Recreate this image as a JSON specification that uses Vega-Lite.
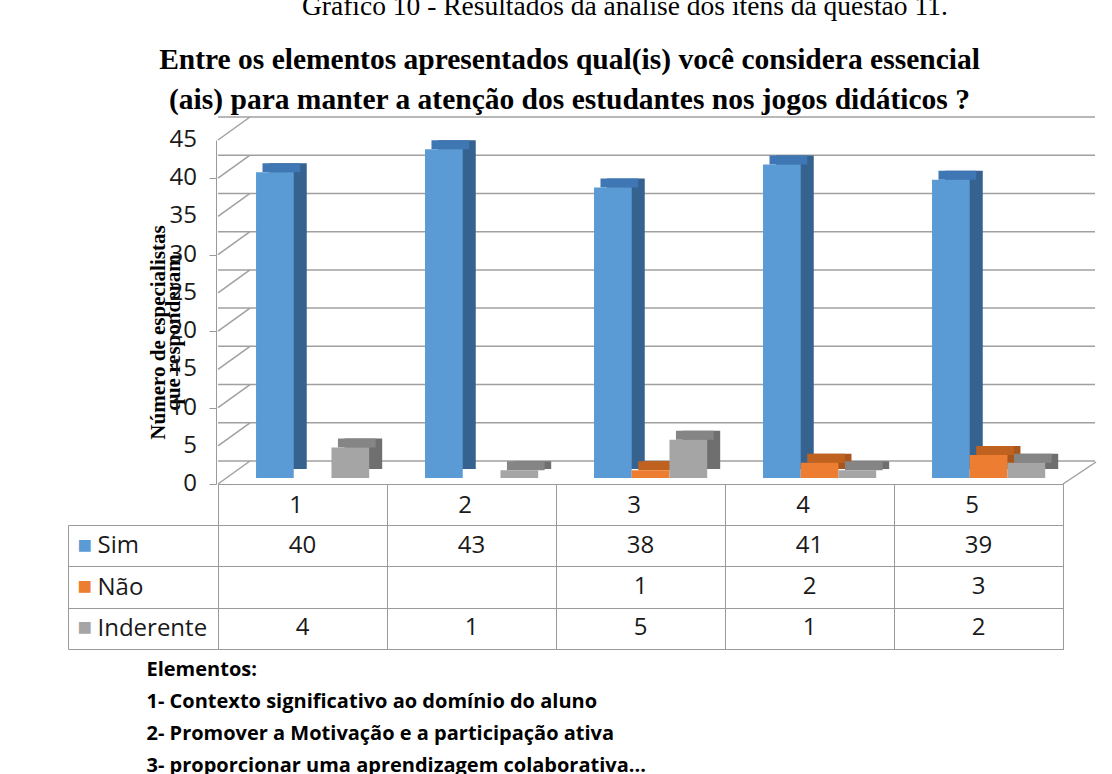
{
  "$schema": "https://vega.github.io/schema/vega-lite/v6.json",
  "padding": {"left": 67, "top": -8, "right": 5, "bottom": 5},
  "background": "white",
  "title": {"text": "Gráfico  10 - Resultados da análise dos itens  da questão 11.", "font": "Liberation Serif", "fontSize": 27.5, "fontWeight": "normal", "color": "#000000", "anchor": "middle", "dx": 43, "offset": 24.5},
  "datasets": {
    "resp": [
      {"cat": "1", "ser": "Sim", "val": 40},
      {"cat": "1", "ser": "Inderente", "val": 4},
      {"cat": "2", "ser": "Sim", "val": 43},
      {"cat": "2", "ser": "Inderente", "val": 1},
      {"cat": "3", "ser": "Sim", "val": 38},
      {"cat": "3", "ser": "Não", "val": 1},
      {"cat": "3", "ser": "Inderente", "val": 5},
      {"cat": "4", "ser": "Sim", "val": 41},
      {"cat": "4", "ser": "Não", "val": 2},
      {"cat": "4", "ser": "Inderente", "val": 1},
      {"cat": "5", "ser": "Sim", "val": 39},
      {"cat": "5", "ser": "Não", "val": 3},
      {"cat": "5", "ser": "Inderente", "val": 2}
    ],
    "ticks": [{"v": 0}, {"v": 5}, {"v": 10}, {"v": 15}, {"v": 20}, {"v": 25}, {"v": 30}, {"v": 35}, {"v": 40}, {"v": 45}]
  },
  "config": {"view": {"stroke": null}},
  "bounds": "flush",
  "spacing": 41,
  "vconcat": [
    {
      "width": 845,
      "height": 344,
      "title": {"text": ["Entre os elementos apresentados qual(is) você considera essencial", "(ais) para manter a atenção dos estudantes nos jogos didáticos ?"], "font": "Liberation Serif", "fontSize": 29.5, "fontWeight": "bold", "color": "#000000", "anchor": "middle", "dx": -71, "offset": 1, "lineHeight": 40},
      "resolve": {"scale": {"xOffset": "independent", "fill": "independent"}},
      "layer": [
        {
          "data": {"name": "ticks"},
          "mark": {"type": "rule", "color": "#a0a0a0", "strokeWidth": 1.5, "xOffset": 32, "x2Offset": 33, "yOffset": -23},
          "encoding": {
            "y": {"field": "v", "type": "quantitative", "scale": {"domain": [0, 45], "nice": false},
              "axis": {"title": ["Número de especialistas", "que responderam"], "values": [0, 5, 10, 15, 20, 25, 30, 35, 40, 45], "labels": false, "grid": false, "domainColor": "#9a9a9a", "tickColor": "#9a9a9a", "tickSize": 7, "offset": 2, "titleFont": "Liberation Serif", "titleFontSize": 21, "titleFontWeight": "bold", "titleColor": "#000000", "titleLineHeight": 15, "titleX": -58, "titleY": 192, "titleAngle": -90, "titleAlign": "center", "titleBaseline": "middle"}}
          }
        },
        {
          "data": {"name": "ticks"},
          "mark": {"type": "rule", "color": "#a0a0a0", "strokeWidth": 1.5, "x2Offset": 32, "y2Offset": -23},
          "encoding": {
            "x": {"datum": "1", "type": "nominal", "bandPosition": 0},
            "x2": {"datum": "1", "bandPosition": 0},
            "y": {"field": "v", "type": "quantitative"},
            "y2": {"field": "v"}
          }
        },
        {
          "data": {"name": "ticks"},
          "transform": [{"filter": "datum.v == 0"}],
          "mark": {"type": "rule", "color": "#a0a0a0", "strokeWidth": 1.5, "x2Offset": 33, "y2Offset": -22},
          "encoding": {
            "x": {"datum": "5", "type": "nominal", "bandPosition": 1},
            "x2": {"datum": "5", "bandPosition": 1},
            "y": {"field": "v", "type": "quantitative"},
            "y2": {"field": "v"}
          }
        },
        {
          "data": {"name": "ticks"},
          "mark": {"type": "text", "align": "right", "baseline": "middle", "dx": -21, "font": "Open Sans", "fontSize": 24, "color": "#1a1a1a"},
          "encoding": {
            "x": {"datum": "1", "type": "nominal", "bandPosition": 0},
            "y": {"field": "v", "type": "quantitative"},
            "text": {"field": "v", "type": "quantitative"}
          }
        },
        {
          "data": {"name": "resp"},
          "mark": {"type": "bar", "yOffset": -15},
          "encoding": {
            "x": {"field": "cat", "type": "nominal", "scale": {"domain": ["1", "2", "3", "4", "5"], "paddingInner": 0, "paddingOuter": 0},
              "axis": {"title": null, "domainColor": "#9a9a9a", "tickColor": "#9a9a9a", "tickSize": 41, "tickBand": "extent", "labelFont": "Open Sans", "labelFontSize": 24, "labelColor": "#1a1a1a", "labelAngle": 0, "labelBaseline": "middle", "labelPadding": -20, "grid": false}},
            "xOffset": {"field": "ser", "scale": {"domain": ["Sim", "Não", "Inderente"], "paddingOuter": 0.74, "paddingInner": 0, "align": 0.914}},
            "y": {"field": "val", "type": "quantitative"},
            "fill": {"field": "ser", "scale": {"domain": ["Sim", "Não", "Inderente"], "range": ["#35628f", "#a9561c", "#6f6f6f"]}, "legend": null}
          }
        },
        {
          "data": {"name": "resp"},
          "mark": {"type": "bar", "yOffset": -15, "y2Offset": -6},
          "encoding": {
            "x": {"field": "cat", "type": "nominal"},
            "xOffset": {"field": "ser", "scale": {"domain": ["Sim", "Não", "Inderente"], "paddingOuter": 0.74, "paddingInner": 0, "align": 0.797}},
            "y": {"field": "val", "type": "quantitative"},
            "y2": {"field": "val"},
            "fill": {"field": "ser", "scale": {"domain": ["Sim", "Não", "Inderente"], "range": ["#3f77b5", "#c0621f", "#858585"]}, "legend": null}
          }
        },
        {
          "data": {"name": "resp"},
          "mark": {"type": "bar", "yOffset": -6},
          "encoding": {
            "x": {"field": "cat", "type": "nominal"},
            "xOffset": {"field": "ser", "scale": {"domain": ["Sim", "Não", "Inderente"], "paddingOuter": 0.74, "paddingInner": 0, "align": 0.681}},
            "y": {"field": "val", "type": "quantitative"},
            "color": {"field": "ser", "scale": {"domain": ["Sim", "Não", "Inderente"], "range": ["#5b9bd5", "#ed7d31", "#a5a5a5"]}, "legend": null}
          }
        }
      ]
    },
    {
      "width": 845,
      "height": 124,
      "view": {"stroke": "#9a9a9a"},
      "title": {"text": ["Elementos:", "1- Contexto significativo ao domínio do aluno", "2- Promover a Motivação e a participação ativa", "3- proporcionar uma aprendizagem colaborativa..."], "orient": "bottom", "anchor": "start", "dx": 79, "font": "Open Sans", "fontSize": 20, "fontWeight": "bold", "color": "#000000", "lineHeight": 32, "offset": 10},
      "data": {"name": "resp"},
      "layer": [
        {
          "mark": {"type": "text", "font": "Open Sans", "fontSize": 24, "color": "#1a1a1a"},
          "encoding": {
            "x": {"field": "cat", "type": "nominal", "scale": {"domain": ["1", "2", "3", "4", "5"], "paddingInner": 0, "paddingOuter": 0},
              "axis": {"title": null, "labels": false, "ticks": false, "domain": false, "grid": true, "gridColor": "#9a9a9a", "tickBand": "extent"}},
            "y": {"field": "ser", "type": "nominal", "scale": {"domain": ["Sim", "Não", "Inderente"], "paddingInner": 0, "paddingOuter": 0},
              "axis": {"title": null, "domain": false, "grid": true, "gridColor": "#9a9a9a", "tickBand": "extent", "tickSize": 150, "tickColor": "#9a9a9a", "labelAlign": "left", "labelPadding": -29, "labelFont": "Open Sans", "labelFontSize": 24, "labelColor": "#1a1a1a"}},
            "text": {"field": "val"}
          }
        },
        {
          "mark": {"type": "text", "opacity": 0},
          "encoding": {
            "x": {"field": "cat", "type": "nominal"},
            "y": {"field": "ser", "type": "nominal",
              "axis": {"orient": "left", "offset": 150, "title": null, "domainColor": "#9a9a9a", "ticks": false, "tickSize": 0, "grid": false, "labelExpr": "'■'", "labelColor": {"expr": "datum.value == 'Sim' ? '#5b9bd5' : datum.value == 'Não' ? '#ed7d31' : '#a5a5a5'"}, "labelAlign": "left", "labelPadding": -9, "labelFontSize": 24}},
            "text": {"field": "val"}
          }
        }
      ],
      "resolve": {"axis": {"y": "independent"}}
    }
  ]
}
